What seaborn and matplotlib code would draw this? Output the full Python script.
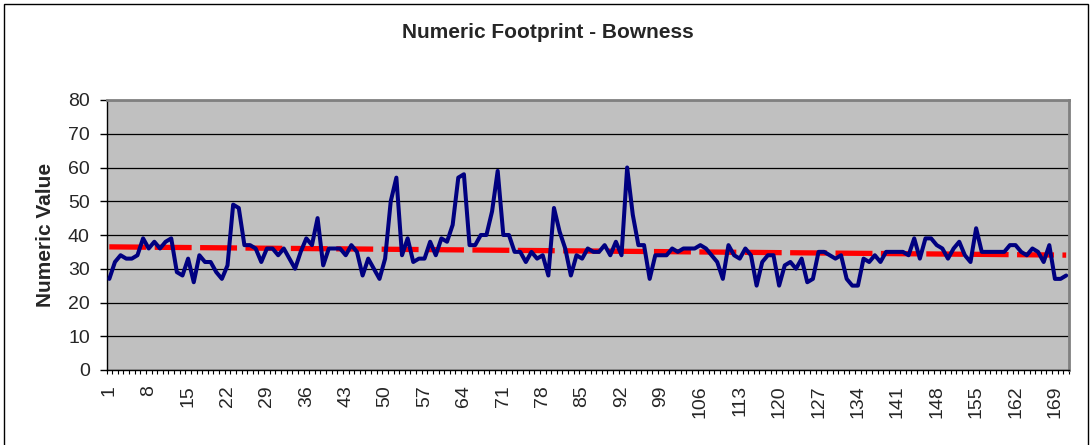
import numpy as np
import pandas as pd
import matplotlib
matplotlib.use("Agg")
import matplotlib.pyplot as plt
from matplotlib.patches import Rectangle
import seaborn as sns

# numeric values, one per point (1..171)
values = [
    27, 32, 34, 33, 33, 34, 39, 36, 38, 36,
    38, 39, 29, 28, 33, 26, 34, 32, 32, 29,
    27, 31, 49, 48, 37, 37, 36, 32, 36, 36,
    34, 36, 33, 30, 35, 39, 37, 45, 31, 36,
    36, 36, 34, 37, 35, 28, 33, 30, 27, 33,
    50, 57, 34, 39, 32, 33, 33, 38, 34, 39,
    38, 43, 57, 58, 37, 37, 40, 40, 47, 59,
    40, 40, 35, 35, 32, 35, 33, 34, 28, 48,
    41, 36, 28, 34, 33, 36, 35, 35, 37, 34,
    38, 34, 60, 46, 37, 37, 27, 34, 34, 34,
    36, 35, 36, 36, 36, 37, 36, 34, 32, 27,
    37, 34, 33, 36, 34, 25, 32, 34, 34, 25,
    31, 32, 30, 33, 26, 27, 35, 35, 34, 33,
    34, 27, 25, 25, 33, 32, 34, 32, 35, 35,
    35, 35, 34, 39, 33, 39, 39, 37, 36, 33,
    36, 38, 34, 32, 42, 35, 35, 35, 35, 35,
    37, 37, 35, 34, 36, 35, 32, 37, 27, 27, 28,
]
points = list(range(1, len(values) + 1))
tick_points = points[::7]
tick_labels = [str(p) for p in tick_points]
y_ticks = list(range(0, 81, 10))

df = pd.DataFrame({"Point": points, "Numeric Value": values})

sns.set_style("ticks")
plt.rcParams['font.family'] = ['Liberation Sans', 'DejaVu Sans']

fig = plt.figure(figsize=(10.91, 4.45), dpi=100)
ax = fig.add_axes([106.5 / 1091, 75 / 445, 962.5 / 1091, 270 / 445])
ax.set_facecolor("#C0C0C0")

# linear trend line (least squares), drawn under the data line
sns.regplot(data=df, x="Point", y="Numeric Value", scatter=False, ci=None,
            truncate=True, ax=ax,
            line_kws=dict(color="#FF0000", lw=3.8, dashes=(7, 1.6), zorder=3))
sns.lineplot(data=df, x="Point", y="Numeric Value", ax=ax,
             color="#000080", lw=2.9, zorder=4)

ax.set_xlim(0.5, len(values) + 0.5)
ax.set_ylim(0, 80)
ax.set_yticks(y_ticks)
ax.yaxis.grid(True, color="black", lw=0.9)
ax.set_axisbelow(True)

ax.set_xticks(tick_points)
ax.set_xticklabels(tick_labels, rotation=90)
ax.set_xticks(np.arange(0.5, len(values) + 1, 1), minor=True)
ax.tick_params(axis="x", which="major", length=0, pad=11, labelsize=14)
ax.tick_params(axis="x", which="minor", length=3, width=0.8, color="black")
ax.tick_params(axis="y", length=5, width=1, color="black", labelsize=14, pad=7)

ax.set_xlabel("")
ax.set_ylabel("Numeric Value", fontsize=15, fontweight="bold")
ax.yaxis.set_label_coords(-0.054, 0.5)

for side in ["top", "right"]:
    ax.spines[side].set_color("#808080")
    ax.spines[side].set_linewidth(2)
for side in ["left", "bottom"]:
    ax.spines[side].set_color("black")
    ax.spines[side].set_linewidth(1)

fig.text(0.502, 0.928, "Numeric Footprint - Bowness", ha="center", va="center",
         fontsize=15, fontweight="bold")

# chart border (bottom edge falls outside the image, as in the reference)
fig.patches.append(Rectangle((0.0037, -0.02), 0.9936, 1.011, transform=fig.transFigure,
                             fill=False, edgecolor="black", lw=1))

fig.savefig("out.png", dpi=100)
